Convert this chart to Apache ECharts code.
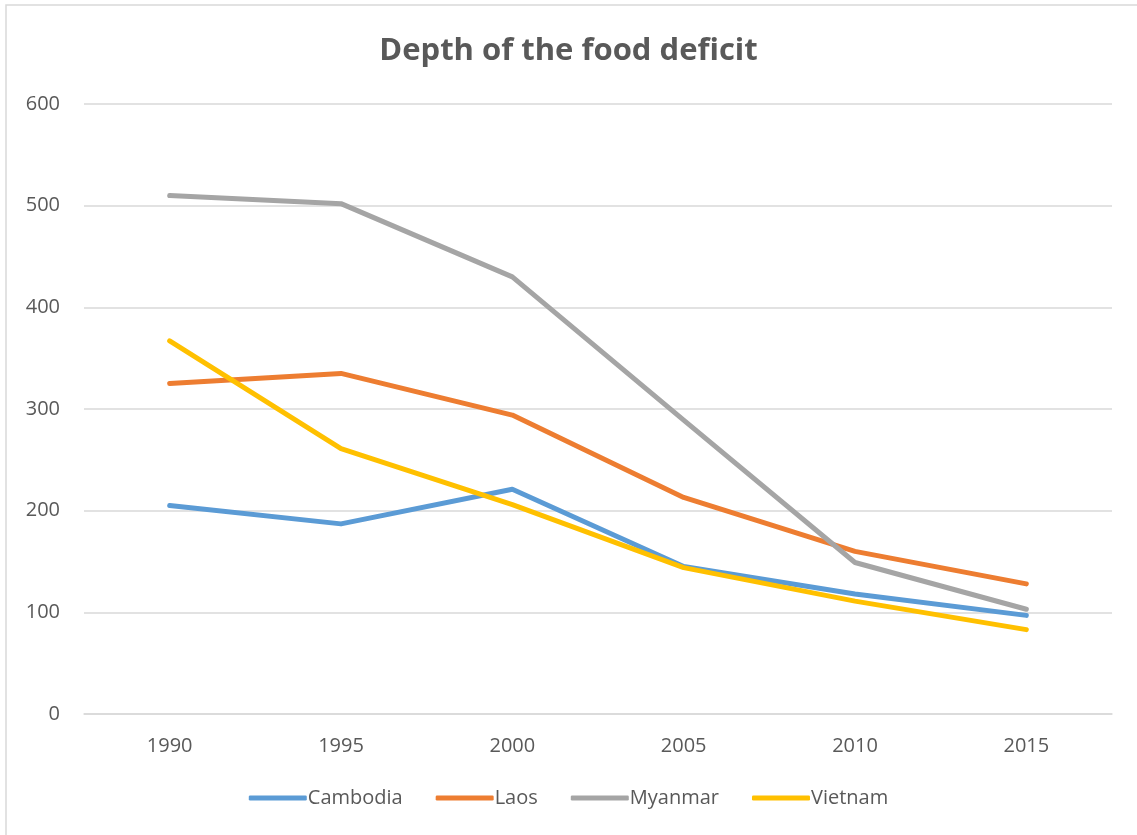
<!DOCTYPE html>
<html>
<head>
<meta charset="utf-8">
<script src="https://cdn.jsdelivr.net/npm/echarts@6/dist/echarts.min.js"></script>
<style>
  html, body { margin: 0; padding: 0; background: #fff; }
  #chart { width: 1137px; height: 835px; }
</style>
</head>
<body>
<div id="chart"></div>
<script>
// Depth of the food deficit by country, 1990–2015
const years = ['1990', '1995', '2000', '2005', '2010', '2015'];
const cambodia = [205, 187, 221, 145, 118, 97];
const laos = [325, 335, 294, 213, 160, 128];
const myanmar = [510, 502, 430, 289, 149, 103];
const vietnam = [367, 261, 206, 144, 111, 83];

const fontFamily = '"Open Sans", "Noto Sans", sans-serif';
const textColor = '#595959';

function lineSeries(name, data, color) {
  return {
    name: name,
    type: 'line',
    data: data,
    symbol: 'none',
    lineStyle: { width: 5, color: color, cap: 'round', join: 'round' },
    itemStyle: { color: color },
    emphasis: { disabled: true }
  };
}

const chart = echarts.init(document.getElementById('chart'), null, { renderer: 'canvas' });
chart.setOption({
  animation: false,
  backgroundColor: '#ffffff',
  graphic: [{
    type: 'rect',
    shape: { x: 6, y: 5, width: 1200, height: 900 },
    style: { fill: 'none', stroke: '#d9d9d9', lineWidth: 1.5 },
    silent: true
  }],
  title: {
    text: 'Depth of the food deficit',
    left: 'center',
    top: 31,
    textStyle: { fontFamily: fontFamily, fontSize: 31, fontWeight: 'bold', color: textColor }
  },
  grid: { left: 84, right: 25, top: 104, bottom: 121, containLabel: false },
  xAxis: {
    type: 'category',
    data: years,
    boundaryGap: true,
    axisLine: { show: true, lineStyle: { color: '#d9d9d9', width: 1.5 } },
    axisTick: { show: false },
    axisLabel: { color: textColor, fontFamily: fontFamily, fontSize: 20, margin: 22 }
  },
  yAxis: {
    type: 'value',
    min: 0,
    max: 600,
    interval: 100,
    axisLine: { show: false },
    axisTick: { show: false },
    splitLine: { lineStyle: { color: '#d9d9d9', width: 1.5 } },
    axisLabel: { color: textColor, fontFamily: fontFamily, fontSize: 20, margin: 24 }
  },
  legend: {
    bottom: 22,
    left: 'center',
    itemWidth: 58,
    itemHeight: 5,
    itemGap: 33,
    icon: 'roundRect',
    textStyle: { color: textColor, fontFamily: fontFamily, fontSize: 20, padding: [0, 0, 0, -4] },
    data: ['Cambodia', 'Laos', 'Myanmar', 'Vietnam']
  },
  series: [
    lineSeries('Cambodia', cambodia, '#5B9BD5'),
    lineSeries('Laos', laos, '#ED7D31'),
    lineSeries('Myanmar', myanmar, '#A5A5A5'),
    lineSeries('Vietnam', vietnam, '#FFC000')
  ]
});
</script>
</body>
</html>
